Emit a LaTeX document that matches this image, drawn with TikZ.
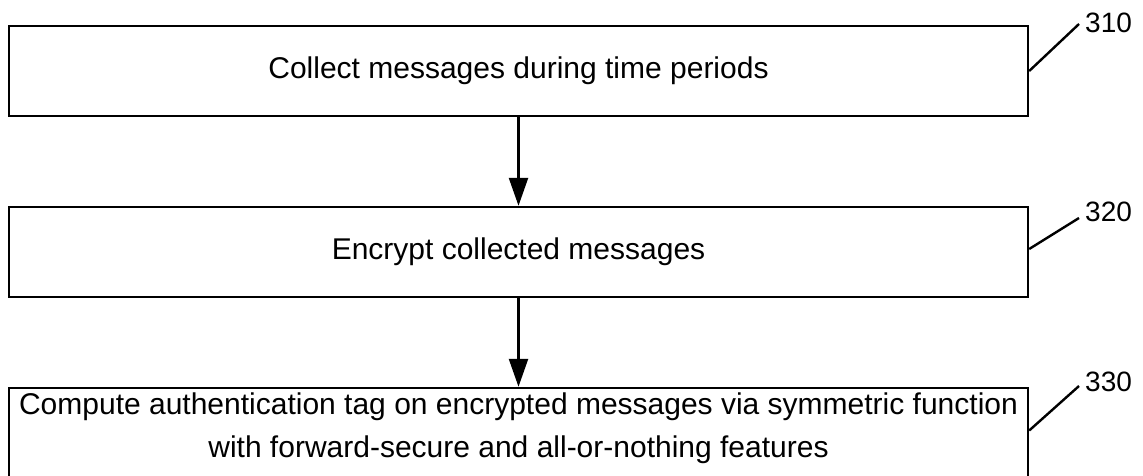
\documentclass[tikz,border=0pt]{standalone}
\usepackage{fontspec}
\setmainfont{Liberation Sans}
\usetikzlibrary{arrows.meta}
\begin{document}
\begin{tikzpicture}[x=1pt,y=1pt,
  stepbox/.style={draw, line width=2.4pt, minimum width=1019pt, minimum height=90pt, inner sep=0pt, align=center, font=\fontsize{30}{43}\selectfont},
  flow/.style={line width=2.4pt, -{Triangle[length=28pt,width=19pt]}},
  leader/.style={line width=2.4pt},
  reflabel/.style={anchor=west, inner sep=0pt, font=\fontsize{28}{32}\selectfont}]
\useasboundingbox (0,0) rectangle (1143,-476);
\node[stepbox] (b1) at (518.5,-71) {Collect messages during time periods};
\node[stepbox] (b2) at (518.5,-252) {Encrypt collected messages};
\node[stepbox, minimum height=89pt] (b3) at (518.5,-432.5) {Compute authentication tag on encrypted messages via symmetric function\\with forward-secure and all-or-nothing features\rule[-14pt]{0pt}{0pt}};
\draw[flow] (b1.south) -- (b2.north);
\draw[flow] (b2.south) -- (b3.north);
\node[reflabel] (l1) at (1085,-23) {310};
\node[reflabel] (l2) at (1085,-212) {320};
\node[reflabel] (l3) at (1085,-382) {330};
\draw[leader] (b1.east) -- ([xshift=-6pt,yshift=-1pt]l1.west);
\draw[leader] ([yshift=3pt]b2.east) -- ([xshift=-6pt,yshift=-6pt]l2.west);
\draw[leader] ([yshift=2pt]b3.east) -- ([xshift=-6pt,yshift=-4pt]l3.west);
\end{tikzpicture}
\end{document}
